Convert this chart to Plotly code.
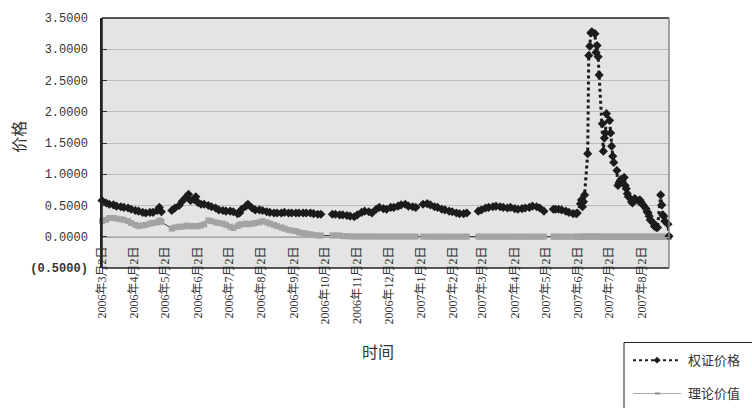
import plotly.graph_objects as go

# ---------------------------------------------------------------------------
# Data: trading-day samples of the warrant's market price and its theoretical
# value (None marks holiday breaks: May Day, National Day, Spring Festival).
# ---------------------------------------------------------------------------
trade_dates = [
    # 2006-03
    "2006-03-02", "2006-03-06", "2006-03-09", "2006-03-13", "2006-03-16", "2006-03-20", "2006-03-23", "2006-03-27", "2006-03-30",
    # 2006-04
    "2006-04-03", "2006-04-06", "2006-04-10", "2006-04-13", "2006-04-17", "2006-04-20", "2006-04-24", "2006-04-26", "2006-04-28",
    # 2006-05
    "2006-05-03", "2006-05-08", "2006-05-11", "2006-05-15", "2006-05-18", "2006-05-22", "2006-05-24", "2006-05-26", "2006-05-29", "2006-05-31",
    # 2006-06
    "2006-06-02", "2006-06-05", "2006-06-08", "2006-06-12", "2006-06-15", "2006-06-19", "2006-06-22", "2006-06-26", "2006-06-29",
    # 2006-07
    "2006-07-03", "2006-07-06", "2006-07-10", "2006-07-12", "2006-07-14", "2006-07-18", "2006-07-20", "2006-07-24", "2006-07-27", "2006-07-31",
    # 2006-08
    "2006-08-03", "2006-08-07", "2006-08-10", "2006-08-14", "2006-08-17", "2006-08-21", "2006-08-24", "2006-08-28", "2006-08-31",
    # 2006-09
    "2006-09-04", "2006-09-07", "2006-09-11", "2006-09-14", "2006-09-18", "2006-09-21", "2006-09-25", "2006-09-28",
    # 2006-10
    "2006-10-04", "2006-10-09", "2006-10-12", "2006-10-16", "2006-10-19", "2006-10-23", "2006-10-26", "2006-10-30",
    # 2006-11
    "2006-11-02", "2006-11-06", "2006-11-09", "2006-11-13", "2006-11-16", "2006-11-20", "2006-11-23", "2006-11-27", "2006-11-30",
    # 2006-12
    "2006-12-04", "2006-12-07", "2006-12-11", "2006-12-14", "2006-12-18", "2006-12-21", "2006-12-25", "2006-12-28",
    # 2007-01
    "2007-01-04", "2007-01-08", "2007-01-11", "2007-01-15", "2007-01-18", "2007-01-22", "2007-01-25", "2007-01-29",
    # 2007-02
    "2007-02-01", "2007-02-05", "2007-02-08", "2007-02-12", "2007-02-15", "2007-02-20", "2007-02-26",
    # 2007-03
    "2007-03-01", "2007-03-05", "2007-03-08", "2007-03-12", "2007-03-15", "2007-03-19", "2007-03-22", "2007-03-26", "2007-03-29",
    # 2007-04
    "2007-04-02", "2007-04-05", "2007-04-09", "2007-04-12", "2007-04-16", "2007-04-19", "2007-04-23", "2007-04-26", "2007-04-30",
    # 2007-05
    "2007-05-04", "2007-05-09", "2007-05-11", "2007-05-14", "2007-05-17", "2007-05-21", "2007-05-24", "2007-05-28", "2007-05-31",
    # 2007-06
    "2007-06-01", "2007-06-04", "2007-06-05", "2007-06-06", "2007-06-07", "2007-06-08", "2007-06-11", "2007-06-12", "2007-06-13",
    "2007-06-14", "2007-06-15", "2007-06-18", "2007-06-19", "2007-06-20", "2007-06-21", "2007-06-22", "2007-06-25", "2007-06-26",
    "2007-06-27", "2007-06-28", "2007-06-29",
    # 2007-07
    "2007-07-02", "2007-07-03", "2007-07-04", "2007-07-05", "2007-07-06", "2007-07-09", "2007-07-10", "2007-07-11", "2007-07-12",
    "2007-07-13", "2007-07-16", "2007-07-17", "2007-07-18", "2007-07-19", "2007-07-20", "2007-07-23", "2007-07-24", "2007-07-25",
    "2007-07-26", "2007-07-27", "2007-07-30", "2007-07-31",
    # 2007-08
    "2007-08-01", "2007-08-02", "2007-08-03", "2007-08-06", "2007-08-07", "2007-08-08", "2007-08-09", "2007-08-10", "2007-08-13",
    "2007-08-14", "2007-08-15", "2007-08-16", "2007-08-17", "2007-08-20", "2007-08-21", "2007-08-22", "2007-08-23", "2007-08-24",
    "2007-08-27", "2007-08-28",
]

warrant_price = [
    0.58, 0.54, 0.52, 0.51, 0.49, 0.48, 0.47, 0.46, 0.44,
    0.42, 0.41, 0.39, 0.38, 0.39, 0.39, 0.42, 0.47, 0.40,
    None, 0.42, 0.46, 0.50, 0.57, 0.64, 0.68, 0.58, 0.60, 0.64,
    0.55, 0.52, 0.52, 0.50, 0.48, 0.46, 0.43, 0.42, 0.41,
    0.41, 0.40, 0.37, 0.38, 0.44, 0.49, 0.52, 0.46, 0.43, 0.43,
    0.42, 0.40, 0.39, 0.38, 0.38, 0.38, 0.39, 0.38, 0.38,
    0.38, 0.38, 0.38, 0.38, 0.38, 0.37, 0.36, 0.36,
    None, 0.36, 0.36, 0.35, 0.35, 0.34, 0.33, 0.32,
    0.35, 0.39, 0.41, 0.40, 0.38, 0.44, 0.47, 0.45, 0.44,
    0.47, 0.47, 0.49, 0.51, 0.52, 0.49, 0.48, 0.47,
    0.52, 0.53, 0.51, 0.48, 0.47, 0.44, 0.43, 0.41,
    0.40, 0.38, 0.37, 0.37, 0.38, None, 0.41,
    0.43, 0.46, 0.47, 0.48, 0.49, 0.48, 0.47, 0.46, 0.47,
    0.45, 0.44, 0.45, 0.46, 0.47, 0.49, 0.48, 0.46, 0.41,
    None, 0.44, 0.44, 0.44, 0.43, 0.41, 0.39, 0.37, 0.37,
    0.38, 0.53, 0.59, 0.48, 0.56, 0.67, 1.33, 2.90, 3.05,
    3.26, 3.28, 3.25, 2.95, 3.06, 2.88, 2.59, 1.81, 1.37,
    1.58, 1.66, 1.97,
    1.86, 1.66, 1.45, 1.29, 1.19, 1.06, 0.82, 0.86, 0.88,
    0.92, 0.95, 0.82, 0.77, 0.69, 0.64, 0.56, 0.54, 0.58,
    0.61, 0.60, 0.57, 0.59,
    0.56, 0.53, 0.51, 0.45, 0.40, 0.38, 0.33, 0.27, 0.22,
    0.17, 0.16, 0.15, 0.15, 0.67, 0.51, 0.35, 0.33, 0.25,
    0.20, 0.01,
]

theory_value = [
    0.25, 0.27, 0.30, 0.30, 0.29, 0.28, 0.27, 0.25, 0.22,
    0.19, 0.17, 0.18, 0.19, 0.21, 0.22, 0.23, 0.26, 0.24,
    None, 0.13, 0.15, 0.16, 0.16, 0.18, 0.17, 0.17, 0.17, 0.17,
    0.17, 0.18, 0.20, 0.26, 0.25, 0.23, 0.22, 0.21, 0.19,
    0.16, 0.14, 0.17, 0.19, 0.20, 0.21, 0.20, 0.21, 0.22, 0.23,
    0.25, 0.23, 0.21, 0.19, 0.17, 0.15, 0.13, 0.11, 0.10,
    0.09, 0.07, 0.06, 0.05, 0.04, 0.03, 0.02, 0.02,
    None, 0.02, 0.02, 0.02, 0.01, 0.01, 0.005, 0.005,
    0.004, 0.004, 0.004, 0.004, 0.003, 0.003, 0.003, 0.003, 0.003,
    0.003, 0.003, 0.003, 0.003, 0.003, 0.003, 0.003, 0.003,
    0.002, 0.002, 0.002, 0.002, 0.002, 0.002, 0.002, 0.002,
    0.002, 0.002, 0.002, 0.002, 0.002, None, 0.002,
    0.002, 0.002, 0.002, 0.002, 0.001, 0.001, 0.001, 0.001, 0.001,
    0.001, 0.001, 0.001, 0.001, 0.001, 0.001, 0.001, 0.001, 0.001,
    None, 0.001, 0.001, 0.001, 0.001, 0.001, 0.001, 0.001, 0.001,
    0.001, 0.001, 0.001, 0.001, 0.001, 0.001, 0.001, 0.001, 0.001,
    0.001, 0.001, 0.001, 0.001, 0.001, 0.001, 0.001, 0.001, 0.001,
    0.0, 0.0, 0.0,
    0.0, 0.0, 0.0, 0.0, 0.0, 0.0, 0.0, 0.0, 0.0,
    0.0, 0.0, 0.0, 0.0, 0.0, 0.0, 0.0, 0.0, 0.0,
    0.0, 0.0, 0.0, 0.0,
    0.0, 0.0, 0.0, 0.0, 0.0, 0.0, 0.0, 0.0, 0.0,
    0.0, 0.0, 0.0, 0.0, 0.0, 0.0, 0.0, 0.0, 0.0,
    0.0, 0.0,
]

tick_dates = [
    "2006-03-02", "2006-04-02", "2006-05-02", "2006-06-02", "2006-07-02", "2006-08-02",
    "2006-09-02", "2006-10-02", "2006-11-02", "2006-12-02", "2007-01-02", "2007-02-02",
    "2007-03-02", "2007-04-02", "2007-05-02", "2007-06-02", "2007-07-02", "2007-08-02",
]
tick_labels = [
    "2006年3月2日", "2006年4月2日", "2006年5月2日", "2006年6月2日", "2006年7月2日", "2006年8月2日",
    "2006年9月2日", "2006年10月2日", "2006年11月2日", "2006年12月2日", "2007年1月2日", "2007年2月2日",
    "2007年3月2日", "2007年4月2日", "2007年5月2日", "2007年6月2日", "2007年7月2日", "2007年8月2日",
]

y_ticks = [-0.5, 0.0, 0.5, 1.0, 1.5, 2.0, 2.5, 3.0, 3.5]
y_labels = ["<b>(0.5000)</b>", "0.0000", "0.5000", "1.0000", "1.5000",
            "2.0000", "2.5000", "3.0000", "3.5000"]

series_names = ["权证价格", "理论价值"]
x_title = "时间"
y_title = "价格"

# ---------------------------------------------------------------------------
# Geometry helpers (pixel -> paper coordinates)
# ---------------------------------------------------------------------------
W, H = 752, 408
PL, PR, PT, PB = 102, 669, 13, 268


def px_x(x):
    return (x - PL) / (PR - PL)


def px_y(y):
    return (PB - y) / (PB - PT)


CJK = "Liberation Serif, Noto Sans CJK SC"
NUM = "Liberation Mono"
INK = "#333333"

fig = go.Figure()

fig.add_trace(go.Scatter(
    x=trade_dates, y=theory_value, name=series_names[1],
    mode="lines+markers", connectgaps=True, cliponaxis=False,
    line=dict(color="#3c3c3c", width=1),
    marker=dict(symbol="square", size=6, color="#a3a3a3"),
    showlegend=False,
))

fig.add_trace(go.Scatter(
    x=trade_dates, y=warrant_price, name=series_names[0],
    mode="lines+markers", connectgaps=False, cliponaxis=False,
    line=dict(color="#1c1c1c", width=3, dash="dot"),
    marker=dict(symbol="diamond", size=7, color="#1c1c1c"),
    showlegend=False,
))

# Plot frame
frame = [
    (0, 1, 1, 1, "#222222"),   # top
    (0, 0, 0, 1, "#222222"),   # left
    (0, 1, 0, 0, "#222222"),   # bottom
    (1, 1, 0, 1, "#8a8a8a"),   # right
]
shapes = []
for x0, x1, y0, y1, c in frame:
    shapes.append(dict(type="line", xref="paper", yref="paper",
                       x0=x0, x1=x1, y0=y0, y1=y1,
                       line=dict(color=c, width=1.5), layer="above"))

# Legend box (hand-drawn so it can sit in the lower-right corner)
shapes.append(dict(type="rect", xref="paper", yref="paper",
                   x0=px_x(624), x1=px_x(770), y0=px_y(344), y1=px_y(420),
                   line=dict(color="#222222", width=1), fillcolor="white"))
leg_y1, leg_y2 = 362, 396
shapes.append(dict(type="line", xref="paper", yref="paper",
                   x0=px_x(633), x1=px_x(681), y0=px_y(leg_y1), y1=px_y(leg_y1),
                   line=dict(color="#1c1c1c", width=2, dash="dot")))
dx, dy = 3.5 / (PR - PL), 3.5 / (PB - PT)
cx, cy = px_x(657), px_y(leg_y1)
shapes.append(dict(type="path", xref="paper", yref="paper",
                   path=f"M {cx - dx} {cy} L {cx} {cy + dy} L {cx + dx} {cy} L {cx} {cy - dy} Z",
                   fillcolor="#1c1c1c", line=dict(color="#1c1c1c", width=0)))
shapes.append(dict(type="line", xref="paper", yref="paper",
                   x0=px_x(633), x1=px_x(681), y0=px_y(leg_y2), y1=px_y(leg_y2),
                   line=dict(color="#a8a8a8", width=1)))
shapes.append(dict(type="rect", xref="paper", yref="paper",
                   x0=px_x(655), x1=px_x(660), y0=px_y(leg_y2 - 1), y1=px_y(leg_y2 + 1),
                   fillcolor="#8a8a8a", line=dict(width=0)))

annotations = [
    dict(text=series_names[0], xref="paper", yref="paper", x=px_x(686), y=px_y(leg_y1),
         xanchor="left", yanchor="middle", showarrow=False,
         font=dict(family=CJK, size=13, color=INK)),
    dict(text=series_names[1], xref="paper", yref="paper", x=px_x(686), y=px_y(leg_y2),
         xanchor="left", yanchor="middle", showarrow=False,
         font=dict(family=CJK, size=13, color=INK)),
    dict(text=x_title, xref="paper", yref="paper", x=px_x(378), y=px_y(354),
         xanchor="center", yanchor="middle", showarrow=False,
         font=dict(family=CJK, size=16, color=INK)),
    dict(text=y_title, xref="paper", yref="paper", x=px_x(20), y=px_y(134),
         xanchor="center", yanchor="middle", showarrow=False, textangle=-90,
         font=dict(family=CJK, size=16, color=INK)),
]

fig.update_layout(
    width=W, height=H,
    margin=dict(l=PL, r=W - PR, t=PT, b=H - PB, pad=0),
    paper_bgcolor="white",
    plot_bgcolor="#e4e4e4",
    showlegend=False,
    shapes=shapes,
    annotations=annotations,
    xaxis=dict(
        type="date",
        range=["2006-03-02", "2007-08-28"],
        anchor="free", position=(0 - (-0.5)) / 4.0,
        tickmode="array", tickvals=tick_dates, ticktext=tick_labels,
        tickangle=-90, ticks="", ticklabelstandoff=4,
        tickfont=dict(family=CJK, size=12, color=INK),
        showgrid=False, zeroline=False,
        showline=True, linecolor="#a5a5a5", linewidth=1,
    ),
    yaxis=dict(
        range=[-0.5, 3.5],
        tickmode="array", tickvals=y_ticks, ticktext=y_labels,
        tickfont=dict(family=NUM, size=12, color=INK),
        ticks="inside", ticklen=5, tickcolor="#333333",
        showgrid=True, gridcolor="#bcbcbc", gridwidth=1,
        zeroline=False,
        showline=True, linecolor="#222222", linewidth=1.5,
        ticklabelstandoff=10,
    ),
)

fig.write_html("out.html")
